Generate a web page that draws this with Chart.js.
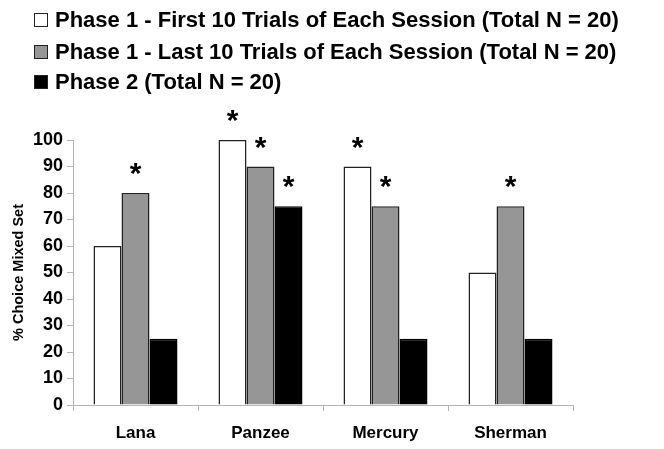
<!DOCTYPE html>
<html>
<head>
<meta charset="utf-8">
<script src="https://cdn.jsdelivr.net/npm/chart.js@4/dist/chart.umd.min.js"></script>
<style>
  html, body { margin: 0; padding: 0; background: #fff; }
  #wrap { width: 664px; height: 449px; }
</style>
</head>
<body>
<div id="wrap"><canvas id="chart" width="664" height="449"></canvas></div>
<script>
const categories = ['Lana', 'Panzee', 'Mercury', 'Sherman'];

const seriesLabels = [
  'Phase 1 - First 10 Trials of Each Session (Total N = 20)',
  'Phase 1 - Last 10 Trials of Each Session (Total N = 20)',
  'Phase 2 (Total N = 20)'
];

const firstTenValues = [60, 100, 90, 50];
const lastTenValues = [80, 90, 75, 75];
const phaseTwoValues = [25, 75, 25, 25];

// which bars carry a significance star
const firstTenStars = [false, true, true, false];
const lastTenStars = [true, true, true, true];
const phaseTwoStars = [false, true, false, false];

const yTicks = [0, 10, 20, 30, 40, 50, 60, 70, 80, 90, 100];

const fontFamily = "'Liberation Sans', Arial, sans-serif";
const edgeColor = '#222';
const axisColor = '#b4b4b4';

const starsPlugin = {
  id: 'stars',
  afterDatasetsDraw(chart) {
    const ctx = chart.ctx;
    const starSets = [firstTenStars, lastTenStars, phaseTwoStars];
    ctx.save();
    ctx.fillStyle = '#000';
    ctx.font = 'bold 30px ' + fontFamily;
    ctx.textAlign = 'center';
    ctx.textBaseline = 'alphabetic';
    starSets.forEach((stars, di) => {
      const meta = chart.getDatasetMeta(di);
      meta.data.forEach((bar, i) => {
        if (stars[i]) ctx.fillText('*', bar.x, bar.y - 10);
      });
    });
    ctx.restore();
  }
};

const legendPlugin = {
  id: 'sideLegend',
  afterDraw(chart) {
    const ctx = chart.ctx;
    const rows = [20, 52, 82];
    ctx.save();
    ctx.font = 'bold 22px ' + fontFamily;
    ctx.textBaseline = 'middle';
    ctx.textAlign = 'left';
    chart.data.datasets.forEach((ds, i) => {
      const cy = rows[i];
      ctx.fillStyle = ds.backgroundColor;
      ctx.fillRect(34, cy - 7, 14, 14);
      ctx.strokeStyle = edgeColor;
      ctx.lineWidth = 1;
      ctx.strokeRect(34.5, cy - 6.5, 13, 13);
      ctx.fillStyle = '#000';
      ctx.fillText(ds.label, 55, cy + 1);
    });
    ctx.restore();
  }
};

const chartData = {
  labels: categories,
  datasets: [
    {
      label: seriesLabels[0],
      data: firstTenValues,
      backgroundColor: '#ffffff',
      borderColor: edgeColor,
      borderWidth: 1.5
    },
    {
      label: seriesLabels[1],
      data: lastTenValues,
      backgroundColor: '#969696',
      borderColor: edgeColor,
      borderWidth: 1.5
    },
    {
      label: seriesLabels[2],
      data: phaseTwoValues,
      backgroundColor: '#000000',
      borderColor: '#000000',
      borderWidth: 1.5
    }
  ]
};

const config = {
  type: 'bar',
  data: chartData,
  options: {
    responsive: false,
    animation: false,
    layout: { padding: { top: 140, right: 91, bottom: 0, left: 0 } },
    datasets: {
      bar: { categoryPercentage: 0.672, barPercentage: 1.0 }
    },
    plugins: {
      legend: { display: false },
      tooltip: { enabled: false }
    },
    scales: {
      x: {
        grid: {
          display: true,
          drawOnChartArea: false,
          drawTicks: true,
          tickLength: 6,
          color: axisColor,
          offset: true
        },
        border: { display: true, color: axisColor, width: 1 },
        ticks: {
          color: '#000',
          font: { family: fontFamily, size: 17, weight: 'bold' },
          padding: 12
        },
        afterFit(scale) { scale.height = 44; }
      },
      y: {
        min: 0,
        max: 100,
        afterBuildTicks(scale) {
          scale.ticks = yTicks.map(v => ({ value: v }));
        },
        grid: {
          display: true,
          drawOnChartArea: false,
          drawTicks: true,
          tickLength: 6,
          color: axisColor
        },
        border: { display: true, color: axisColor, width: 1 },
        ticks: {
          color: '#000',
          font: { family: fontFamily, size: 18, weight: 'bold' },
          padding: 4
        },
        title: {
          display: true,
          text: '% Choice Mixed Set',
          color: '#000',
          font: { family: fontFamily, size: 14.5, weight: 'bold' },
          padding: { top: 10, bottom: 0 }
        },
        afterFit(scale) { scale.width = 73; }
      }
    }
  },
  plugins: [starsPlugin, legendPlugin]
};

document.addEventListener('DOMContentLoaded', () => {
  const chart = new Chart(document.getElementById('chart'), config);
});
</script>
</body>
</html>
